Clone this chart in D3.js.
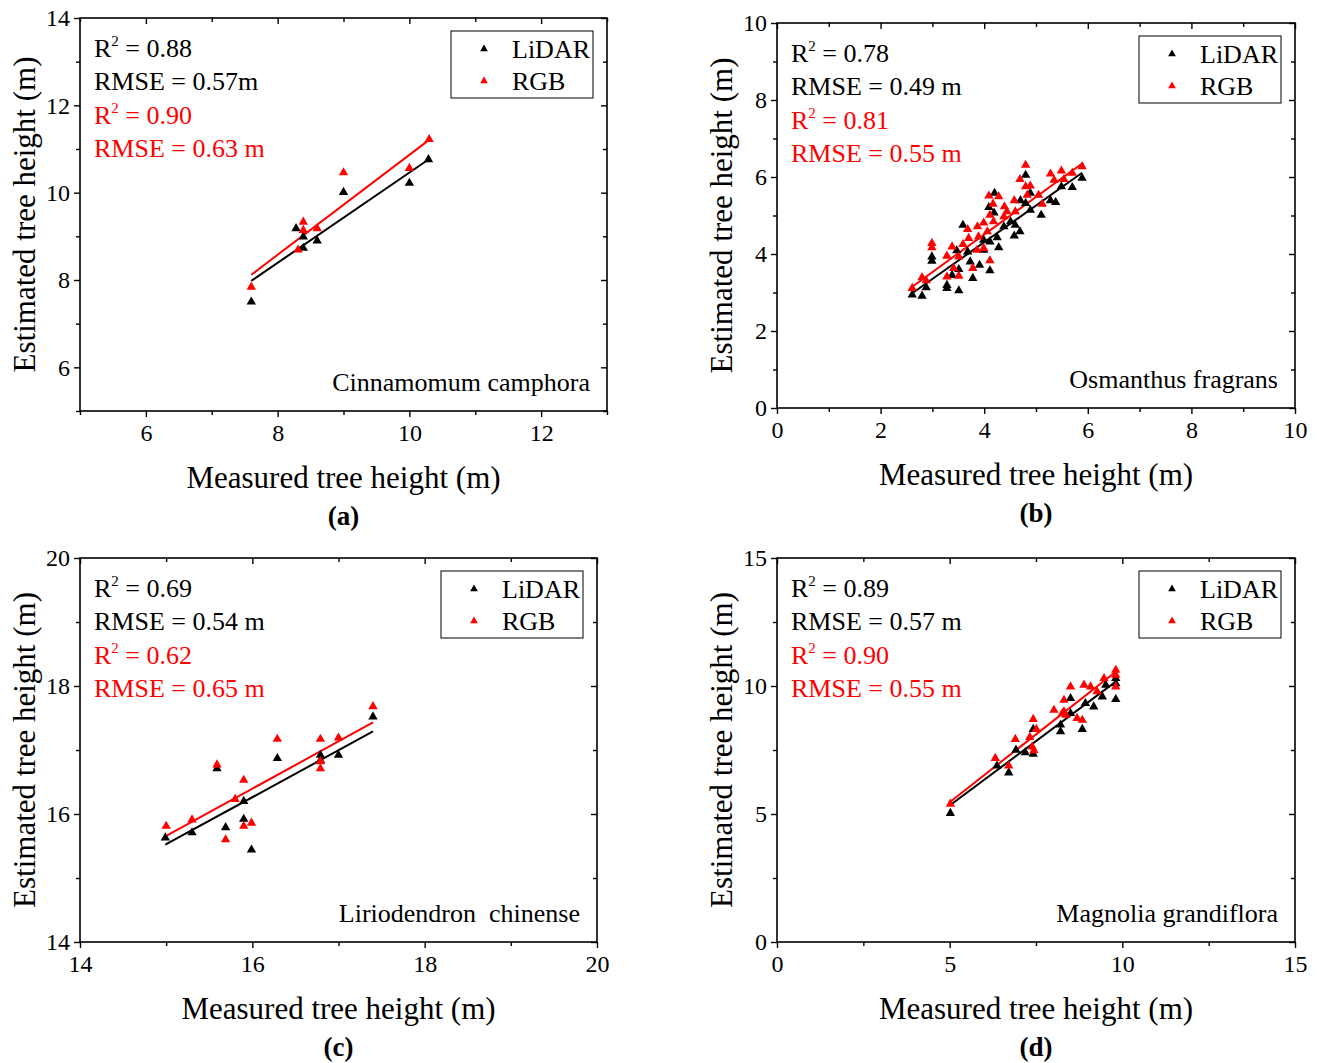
<!DOCTYPE html>
<html>
<head>
<meta charset="utf-8">
<script src="https://cdn.jsdelivr.net/npm/d3@7"></script>
<style>
  body { margin: 0; background: #fff; }
  text { font-family: "Liberation Serif", "Times New Roman", serif; }
</style>
</head>
<body>
<script>
// ---- data ----
const labels = ['(a)', '(b)', '(c)', '(d)'];
const species = ['Cinnamomum camphora', 'Osmanthus fragrans', 'Liriodendron\u00a0 chinense', 'Magnolia grandiflora'];
const lidarR2 = ['0.88', '0.78', '0.69', '0.89'];
const lidarRmse = ['0.57m', '0.49 m', '0.54 m', '0.57 m'];
const rgbR2 = ['0.90', '0.81', '0.62', '0.90'];
const rgbRmse = ['0.63 m', '0.55 m', '0.65 m', '0.55 m'];

const aLidar = [[7.60,7.50],[10.29,10.76],[10.0,10.22],[9.0,10.01],[8.28,9.18],[8.39,8.99],[8.60,8.90],[8.39,8.73]];
const aRgb = [[7.60,7.84],[10.30,11.22],[10.0,10.56],[9.0,10.46],[8.39,9.33],[8.39,9.14],[8.60,9.18],[8.31,8.69]];
const aLidarFit = [[7.6,7.98],[10.29,10.76]];
const aRgbFit = [[7.6,8.12],[10.3,11.21]];

const bLidar = [[4.80,6.05],[5.89,5.97],[5.70,5.73],[5.49,5.75],[5.28,5.39],[5.38,5.34],[5.10,5.01],[4.89,5.14],
  [4.89,5.58],[4.70,5.39],[4.80,5.32],[4.20,5.58],[4.09,5.21],[4.19,5.07],[4.51,4.84],[4.60,4.75],[4.69,4.58],
  [4.58,4.47],[4.38,4.71],[4.25,4.43],[4.28,4.17],[4.11,4.32],[3.99,4.36],[3.59,4.75],[3.99,4.10],[3.91,3.71],
  [3.73,3.80],[3.78,3.37],[4.11,3.57],[3.51,3.60],[3.38,3.45],[3.28,3.19],[3.28,3.11],[3.51,3.05],[2.99,3.93],
  [2.99,3.82],[2.88,3.13],[2.80,2.91],[2.61,2.94],[3.68,4.06],[3.47,4.09]];
const bRgb = [[4.80,6.31],[5.28,6.08],[5.49,6.16],[5.70,6.10],[5.89,6.27],[4.69,5.94],[4.89,5.77],[4.80,5.75],
  [5.35,5.92],[5.54,5.94],[4.09,5.51],[4.28,5.49],[4.17,5.30],[4.58,5.39],[4.39,5.23],[4.44,5.10],[4.11,5.01],
  [3.99,4.81],[4.18,4.84],[3.87,4.71],[3.68,4.64],[4.38,4.97],[4.60,5.10],[4.83,5.53],[5.05,5.53],[5.12,5.30],
  [3.70,4.41],[3.89,4.45],[3.59,4.25],[3.38,4.19],[3.51,3.93],[3.28,3.95],[2.99,4.28],[2.99,4.17],[3.41,3.63],
  [3.28,3.41],[3.51,3.43],[3.78,3.63],[4.11,3.83],[2.80,3.39],[2.88,3.31],[2.61,3.11],[3.99,4.15],[3.86,4.10],
  [4.06,4.58]];
const bLidarFit = [[2.59,2.96],[5.89,6.11]];
const bRgbFit = [[2.59,3.13],[5.91,6.37]];

const cLidar = [[14.99,15.63],[15.30,15.71],[15.59,16.71],[15.69,15.79],[15.90,16.20],[15.90,15.92],[15.99,15.44],
  [16.29,16.87],[16.79,16.92],[16.79,16.84],[17.0,16.92],[17.40,17.52]];
const cRgb = [[15.0,15.81],[15.30,15.91],[15.59,16.77],[15.69,15.60],[15.80,16.23],[15.90,16.53],[15.90,15.81],
  [15.99,15.86],[16.29,17.17],[16.79,17.17],[16.79,16.82],[16.79,16.71],[17.0,17.19],[17.40,17.68]];
const cLidarFit = [[14.99,15.52],[17.40,17.29]];
const cRgbFit = [[14.99,15.65],[17.40,17.43]];

const dLidar = [[5.02,5.03],[6.37,6.88],[6.71,6.61],[6.92,7.50],[7.19,7.40],[7.42,8.31],[7.42,7.34],[8.21,8.22],
  [8.21,8.48],[8.50,9.52],[8.50,8.93],[8.84,8.31],[8.93,9.32],[9.17,9.19],[9.42,9.58],[9.81,10.30],[9.81,10.10],
  [9.81,9.48],[9.52,10.04]];
const dRgb = [[5.02,5.39],[6.32,7.18],[6.71,6.88],[6.90,7.92],[7.32,8.0],[7.42,8.70],[7.39,7.63],[7.44,7.48],
  [7.51,8.31],[8.02,9.06],[8.31,9.45],[8.31,9.0],[8.50,9.97],[8.69,8.74],[8.84,8.67],[8.89,10.04],[9.08,9.97],
  [9.27,9.78],[9.47,10.30],[9.81,10.62],[9.81,10.43],[9.81,9.97],[8.36,8.87],[8.26,8.93]];
const dLidarFit = [[5.02,5.35],[9.81,10.17]];
const dRgbFit = [[5.02,5.48],[9.81,10.56]];

const xDomains = [[5,13],[0,10],[14,20],[0,15]];
const yDomains = [[5,14],[0,10],[14,20],[0,15]];
const xMajor = [[6,8,10,12],[0,2,4,6,8,10],[14,16,18,20],[0,5,10,15]];
const xMinor = [[5,7,9,11,13],[1,3,5,7,9],[15,17,19],[2.5,7.5,12.5]];
const yMajor = [[6,8,10,12,14],[0,2,4,6,8,10],[14,16,18,20],[0,5,10,15]];
const yMinor = [[5,7,9,11,13],[1,3,5,7,9],[15,17,19],[2.5,7.5,12.5]];

const lidarSets = [aLidar, bLidar, cLidar, dLidar];
const rgbSets = [aRgb, bRgb, cRgb, dRgb];
const lidarFits = [aLidarFit, bLidarFit, cLidarFit, dLidarFit];
const rgbFits = [aRgbFit, bRgbFit, cRgbFit, dRgbFit];

// plot frames [left, top, right, bottom] in page pixels
const frames = [[80,18,607,411],[777,23,1295,408],[80,558,597,942],[777,558,1295,942]];

const svg = d3.select('body').append('svg')
  .attr('width', 1317)
  .attr('height', 1063);

const tri = d3.symbol().type(d3.symbolTriangle).size(38);
const triSmall = d3.symbol().type(d3.symbolTriangle).size(26);

function drawPanel(i) {
  const [l, t, r, b] = frames[i];
  const w = r - l, h = b - t;
  const g = svg.append('g').attr('transform', `translate(${l},${t})`);

  const x = d3.scaleLinear().domain(xDomains[i]).range([0, w]);
  const y = d3.scaleLinear().domain(yDomains[i]).range([h, 0]);

  // axes: major + minor ticks, outward on left/bottom, inward on top/right
  const axisStyle = sel => {
    sel.attr('font-family', null).attr('font-size', null);
    sel.select('.domain').remove();
    sel.selectAll('line').attr('stroke', '#000').attr('stroke-width', 1.4);
    sel.selectAll('text').attr('fill', '#000').style('font-size', '24px')
      .style('font-family', '"Liberation Serif", serif');
  };
  g.append('g').attr('transform', `translate(0,${h})`)
    .call(d3.axisBottom(x).tickValues(xMajor[i]).tickSize(6).tickPadding(7).tickFormat(d3.format('d')))
    .call(axisStyle);
  g.append('g').attr('transform', `translate(0,${h})`)
    .call(d3.axisBottom(x).tickValues(xMinor[i]).tickSize(4).tickFormat(''))
    .call(axisStyle);
  g.append('g')
    .call(d3.axisLeft(y).tickValues(yMajor[i]).tickSize(6).tickPadding(4).tickFormat(d3.format('d')))
    .call(axisStyle);
  g.append('g')
    .call(d3.axisLeft(y).tickValues(yMinor[i]).tickSize(4).tickFormat(''))
    .call(axisStyle);
  g.append('g')
    .call(d3.axisTop(x).tickValues(xMajor[i]).tickSize(-6).tickFormat(''))
    .call(axisStyle);
  g.append('g')
    .call(d3.axisTop(x).tickValues(xMinor[i]).tickSize(-4).tickFormat(''))
    .call(axisStyle);
  g.append('g').attr('transform', `translate(${w},0)`)
    .call(d3.axisRight(y).tickValues(yMajor[i]).tickSize(-6).tickFormat(''))
    .call(axisStyle);
  g.append('g').attr('transform', `translate(${w},0)`)
    .call(d3.axisRight(y).tickValues(yMinor[i]).tickSize(-4).tickFormat(''))
    .call(axisStyle);

  g.append('rect')
    .attr('width', w).attr('height', h)
    .attr('fill', 'none').attr('stroke', '#000').attr('stroke-width', 1.6);

  // fitted lines
  const line = d3.line().x(d => x(d[0])).y(d => y(d[1]));
  g.append('path').attr('d', line(lidarFits[i]))
    .attr('stroke', '#000').attr('stroke-width', 2).attr('fill', 'none');
  g.append('path').attr('d', line(rgbFits[i]))
    .attr('stroke', '#ff0000').attr('stroke-width', 2).attr('fill', 'none');

  // points
  g.selectAll('.lidar').data(lidarSets[i]).enter().append('path')
    .attr('class', 'lidar')
    .attr('d', tri)
    .attr('transform', d => `translate(${x(d[0])},${y(d[1])})`)
    .attr('fill', '#000');
  g.selectAll('.rgb').data(rgbSets[i]).enter().append('path')
    .attr('class', 'rgb')
    .attr('d', tri)
    .attr('transform', d => `translate(${x(d[0])},${y(d[1])})`)
    .attr('fill', '#ff0000');

  // stats text
  const stats = [
    { k: 'R', sup: true, v: lidarR2[i], c: '#000', dy: 39 },
    { k: 'RMSE', sup: false, v: lidarRmse[i], c: '#000', dy: 72 },
    { k: 'R', sup: true, v: rgbR2[i], c: '#ff0000', dy: 106 },
    { k: 'RMSE', sup: false, v: rgbRmse[i], c: '#ff0000', dy: 139 }
  ];
  stats.forEach(s => {
    const txt = g.append('text').attr('x', 14).attr('y', s.dy)
      .attr('fill', s.c).style('font-size', '26px');
    txt.append('tspan').text(s.k);
    if (s.sup) {
      txt.append('tspan').text('2').style('font-size', '15px').attr('dy', -11);
      txt.append('tspan').text(' = ' + s.v).attr('dy', 11);
    } else {
      txt.append('tspan').text(' = ' + s.v);
    }
  });

  // legend
  const lx = w - 156, ly = 13;
  g.append('rect').attr('x', lx).attr('y', ly).attr('width', 142).attr('height', 67)
    .attr('fill', '#fff').attr('stroke', '#000').attr('stroke-width', 1);
  [['LiDAR', '#000'], ['RGB', '#ff0000']].forEach((e, j) => {
    const cy = ly + 18 + j * 32;
    g.append('path').attr('d', triSmall)
      .attr('transform', `translate(${lx + 33},${cy})`).attr('fill', e[1]);
    g.append('text').attr('x', lx + 61).attr('y', cy + 9)
      .attr('fill', '#000').style('font-size', '26px').text(e[0]);
  });

  // species name
  g.append('text').attr('x', w - 17).attr('y', h - 20)
    .attr('text-anchor', 'end').style('font-size', '26px').attr('fill', '#000')
    .text(species[i]);

  // axis titles
  g.append('text').attr('x', w / 2).attr('y', h + 77)
    .attr('text-anchor', 'middle').style('font-size', '31px').attr('fill', '#000')
    .text('Measured tree height (m)');
  g.append('text')
    .attr('transform', `translate(-45,${h / 2}) rotate(-90)`)
    .attr('text-anchor', 'middle').style('font-size', '31px').attr('fill', '#000')
    .text('Estimated tree height (m)');
  g.append('text').attr('x', w / 2).attr('y', h + 114)
    .attr('text-anchor', 'middle').style('font-size', '27px').style('font-weight', 'bold')
    .attr('fill', '#000').text(labels[i]);
}

for (let i = 0; i < 4; i++) drawPanel(i);
</script>
</body>
</html>
